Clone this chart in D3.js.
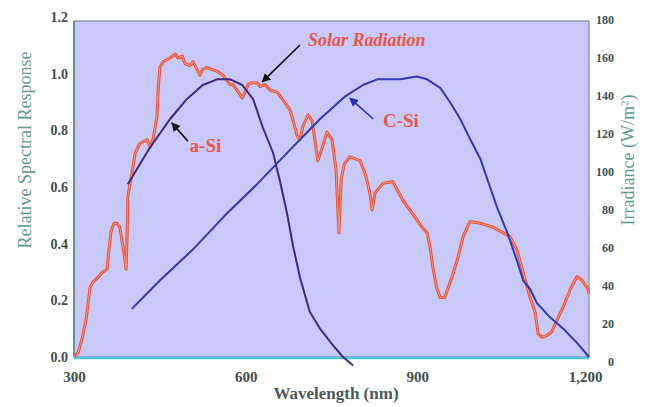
<!DOCTYPE html>
<html>
<head>
<meta charset="utf-8">
<script src="https://cdn.jsdelivr.net/npm/d3@7"></script>
<style>
	body { margin: 0; background: #fff; }
	svg { display: block; }
</style>
</head>
<body>
<svg id="chart"></svg>
<script>
// wavelength (nm) / relative response for the two cells
const aSiWave = [394, 433, 468, 497, 525, 550, 573, 594, 613, 630, 648, 660, 672, 683, 695, 712, 730, 753, 770, 788];
const aSiResp = [0.61, 0.74, 0.84, 0.91, 0.96, 0.98, 0.98, 0.96, 0.91, 0.81, 0.72, 0.62, 0.51, 0.39, 0.28, 0.16, 0.10, 0.04, 0.0, -0.03];

const cSiWave = [401, 450, 508, 564, 620, 677, 730, 774, 805, 830, 870, 899, 917, 940, 957, 975, 992, 1010, 1027, 1039, 1057, 1074, 1085, 1097, 1109, 1132, 1155, 1179, 1200];
const cSiResp = [0.17, 0.27, 0.38, 0.50, 0.61, 0.73, 0.84, 0.92, 0.96, 0.98, 0.98, 0.99, 0.98, 0.95, 0.90, 0.84, 0.77, 0.70, 0.60, 0.53, 0.44, 0.34, 0.27, 0.24, 0.19, 0.14, 0.10, 0.05, 0.0];

// solar spectral irradiance (W/m²), right axis
const solarWave = [300, 307, 314, 321, 328, 333, 340, 349, 358, 361, 365, 370, 375, 380, 386, 391, 393, 394, 401, 407,
	415, 428, 433, 438, 445, 447, 450, 456, 468, 477, 482, 489, 494, 503, 508, 515, 520, 525, 532, 541,
	550, 560, 573, 578, 585, 594, 599, 604, 611, 620, 625, 634, 643, 655, 665, 677, 683, 690, 695, 700,
	709, 716, 721, 726, 733, 742, 751, 758, 763, 767, 772, 782, 800, 810, 817, 821, 826, 840, 857, 875,
	892, 908, 917, 922, 927, 934, 940, 948, 961, 971, 980, 992, 1010, 1032, 1050, 1062, 1074, 1085, 1097, 1106,
	1111, 1118, 1127, 1135, 1144, 1155, 1167, 1179, 1188, 1197, 1200];
const solarIrr = [3, 5, 12, 22, 39, 42, 44, 47, 49, 59, 69, 73, 73, 71, 60, 49, 69, 87, 99, 110,
	115, 117, 113, 117, 129, 143, 155, 158, 160, 162, 160, 161, 157, 156, 158, 154, 151, 154, 155, 154,
	153, 151, 146, 146, 143, 139, 142, 146, 147, 147, 145, 146, 143, 142, 138, 133, 127, 119, 117, 124,
	130, 127, 117, 106, 112, 121, 117, 101, 68, 96, 104, 108, 106, 98, 89, 80, 89, 94, 95, 85,
	78, 71, 68, 61, 50, 39, 34, 34, 45, 55, 66, 74, 73, 71, 68, 66, 59, 47, 34, 26,
	15, 13, 14, 16, 22, 29, 38, 45, 43, 39, 36];

const xTicks = [300, 600, 900, 1200];
const leftTicks = [0, 0.2, 0.4, 0.6, 0.8, 1.0, 1.2];
const rightTicks = [0, 20, 40, 60, 80, 100, 120, 140, 160, 180];

// labels: [text, nm, response, italic] and arrows: [fromNm, fromResp, toNm, toResp, colour]
const labels = [
	["Solar Radiation", 709, 1.098, true],
	["a-Si", 502, 0.724, false],
	["C-Si", 840, 0.812, false]
];
const arrows = [
	[695, 1.101, 629, 0.971, "#111"],
	[499, 0.762, 471, 0.826, "#111"],
	[823, 0.84, 782, 0.914, "#2233bb"]
];

const width = 648, height = 407;
const plot = { left: 74, right: 589, top: 21, bottom: 357 };
const serif = "'Liberation Serif', 'DejaVu Serif', serif";

const svg = d3.select("#chart").attr("width", width).attr("height", height);

const x = d3.scaleLinear().domain([300, 1200]).range([plot.left, plot.right]);
const yL = d3.scaleLinear().domain([0, 1.2]).range([357, 17]);
const yR = d3.scaleLinear().domain([0, 180]).range([362, 20]);

// plot background
svg.append("rect")
	.attr("x", plot.left).attr("y", plot.top)
	.attr("width", plot.right - plot.left).attr("height", plot.bottom - plot.top)
	.attr("fill", "#c9c9f8")
	.attr("stroke", "#7d8a96").attr("stroke-width", 1.2);
svg.append("line")
	.attr("x1", plot.left).attr("x2", plot.right)
	.attr("y1", plot.bottom + 1).attr("y2", plot.bottom + 1)
	.attr("stroke", "#52c8dc").attr("stroke-width", 2.5);
svg.append("line")
	.attr("x1", plot.left).attr("x2", plot.left)
	.attr("y1", plot.top).attr("y2", plot.bottom)
	.attr("stroke", "#4f8a94").attr("stroke-width", 1.5);

// axes
const styleAxis = (size) => (g) => {
	g.select(".domain").remove();
	g.selectAll("text")
		.attr("font-family", serif)
		.attr("font-weight", "bold")
		.attr("font-size", size)
		.attr("fill", "#3d4d4b");
};

svg.append("g")
	.attr("transform", `translate(${plot.left},0)`)
	.call(d3.axisLeft(yL).tickValues(leftTicks).tickFormat(d3.format(".1f")).tickSize(0).tickPadding(6))
	.call(styleAxis(14));

// right labels are right-aligned a little off the frame
svg.append("g")
	.attr("transform", `translate(${plot.right},0)`)
	.call(d3.axisRight(yR).tickValues(rightTicks).tickSize(0).tickPadding(25))
	.call(styleAxis(12))
	.call((g) => g.selectAll("text").attr("text-anchor", "end"));

svg.append("g")
	.attr("transform", `translate(0,${plot.bottom})`)
	.call(d3.axisBottom(x).tickValues(xTicks).tickFormat(d3.format(",")).tickSize(0).tickPadding(14))
	.call(styleAxis(15))
	.call((g) => g.selectAll(".tick:last-of-type text").attr("dx", -4));

// axis titles
svg.append("text")
	.attr("transform", `translate(31,150) rotate(-90)`)
	.attr("text-anchor", "middle")
	.attr("font-family", serif).attr("font-size", 18)
	.attr("fill", "#5a9c92")
	.text("Relative Spectral Response");

const irr = svg.append("text")
	.attr("transform", `translate(634,160) rotate(-90)`)
	.attr("text-anchor", "middle")
	.attr("font-family", serif).attr("font-size", 18)
	.attr("fill", "#5a9c92");
irr.append("tspan").text("Irradiance (W/m");
irr.append("tspan").attr("dy", -6).attr("font-size", 11).text("2");
irr.append("tspan").attr("dy", 6).text(")");

svg.append("text")
	.attr("x", 336).attr("y", 399)
	.attr("text-anchor", "middle")
	.attr("font-family", serif).attr("font-weight", "bold").attr("font-size", 17)
	.attr("fill", "#4a5a58")
	.text("Wavelength (nm)");

// curves
const lineL = d3.line().x((d) => x(d[0])).y((d) => yL(d[1]));
const lineR = d3.line().x((d) => x(d[0])).y((d) => yR(d[1]));

const solar = d3.zip(solarWave, solarIrr);
svg.append("path")
	.datum(solar)
	.attr("d", lineR)
	.attr("fill", "none")
	.attr("stroke", "#e8503c").attr("stroke-width", 3)
	.attr("stroke-linejoin", "round");
svg.append("path")
	.datum(solar)
	.attr("d", lineR)
	.attr("fill", "none")
	.attr("stroke", "#f59a78").attr("stroke-width", 1)
	.attr("stroke-linejoin", "round");

svg.append("path")
	.datum(d3.zip(cSiWave, cSiResp))
	.attr("d", lineL)
	.attr("fill", "none")
	.attr("stroke", "#3338b0").attr("stroke-width", 2)
	.attr("stroke-linejoin", "round");

svg.append("path")
	.datum(d3.zip(aSiWave, aSiResp))
	.attr("d", lineL)
	.attr("fill", "none")
	.attr("stroke", "#42287e").attr("stroke-width", 2)
	.attr("stroke-linejoin", "round");

// arrows
const defs = svg.append("defs");
arrows.forEach((a, i) => {
	defs.append("marker")
		.attr("id", "head" + i)
		.attr("viewBox", "0 0 10 10")
		.attr("refX", 9).attr("refY", 5)
		.attr("markerWidth", 9).attr("markerHeight", 9)
		.attr("markerUnits", "userSpaceOnUse")
		.attr("orient", "auto")
		.append("path")
		.attr("d", "M0,0 L10,5 L0,10 Z")
		.attr("fill", a[4]);
	svg.append("line")
		.attr("x1", x(a[0])).attr("y1", yL(a[1]))
		.attr("x2", x(a[2])).attr("y2", yL(a[3]))
		.attr("stroke", a[4]).attr("stroke-width", 1.6)
		.attr("marker-end", `url(#head${i})`);
});

// labels
svg.selectAll(".label")
	.data(labels)
	.join("text")
	.attr("class", "label")
	.attr("x", (d) => x(d[1]))
	.attr("y", (d) => yL(d[2]))
	.attr("font-family", serif)
	.attr("font-weight", "bold")
	.attr("font-style", (d) => (d[3] ? "italic" : "normal"))
	.attr("font-size", (d) => (d[3] ? 18 : 19))
	.attr("fill", "#e8564a")
	.text((d) => d[0]);
</script>
</body>
</html>
